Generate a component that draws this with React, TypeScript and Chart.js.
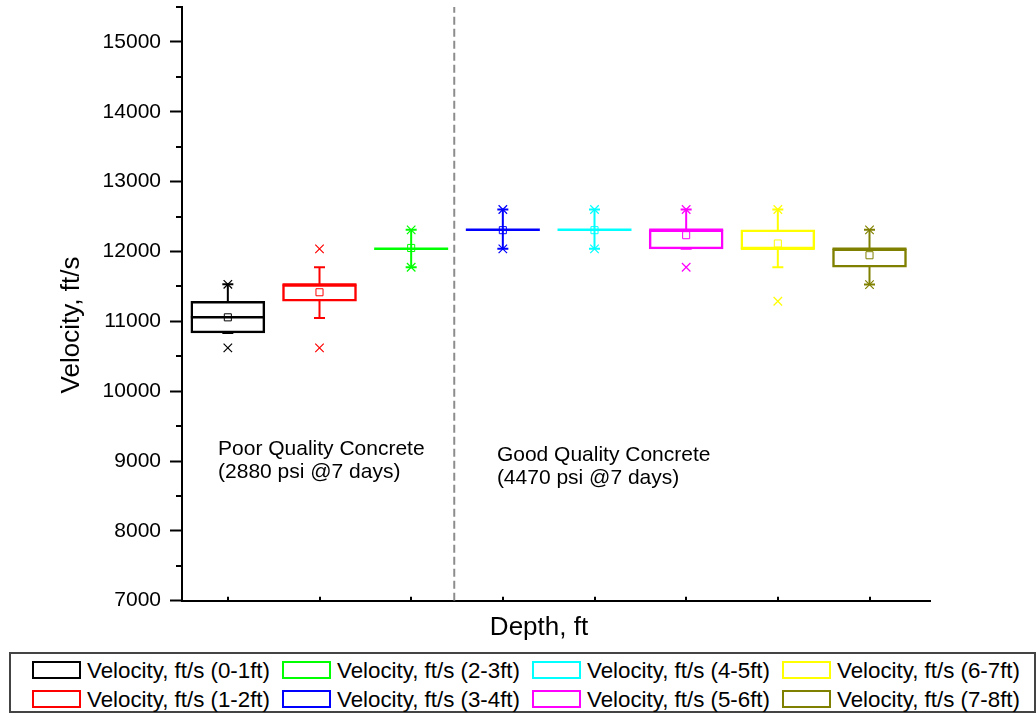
import React, { useEffect, useRef } from 'react';
import { Chart, registerables } from 'chart.js';

Chart.register(...registerables);

const FONT = '"Liberation Sans", Arial, Helvetica, sans-serif';
Chart.defaults.font.family = FONT;

// Depth intervals and their colours
const depthRanges = ['0-1ft', '1-2ft', '2-3ft', '3-4ft', '4-5ft', '5-6ft', '6-7ft', '7-8ft'];
const seriesColors = ['#000000', '#ff0000', '#00ff00', '#0000ff', '#00ffff', '#ff00ff', '#ffff00', '#808000'];

// Box statistics of the pulse velocity per interval (ft/s)
const boxBottom = [10834, 11287, 12038, 12310, 12310, 12038, 12038, 11774];
const boxTop = [11287, 11526, 12038, 12310, 12310, 12310, 12310, 12038];
const medians = [11057, 11526, 12038, 12310, 12310, 12310, 12038, 12038];
const means = [11057, 11416, 12050, 12305, 12305, 12233, 12114, 11946];
const whiskerBottom = [10834, 11049, 11774, 12038, 12038, 12038, 11774, 11526];
const whiskerTop = [11530, 11774, 12310, 12601, 12601, 12601, 12601, 12310];
const minimums = [10619, 10619, 11774, 12038, 12038, 11774, 11287, 11526];
const maximums = [11530, 12038, 12310, 12601, 12601, 12601, 12601, 12310];

// Axis ticks
const yTickValues = [7000, 8000, 9000, 10000, 11000, 12000, 13000, 14000, 15000];
const yMinorTickValues = [7500, 8500, 9500, 10500, 11500, 12500, 13500, 14500, 15500];

// Divider between the two concrete groups (x position in interval units)
const dividerX = 3.47;

const notes = [
  { x: 0.893, y: 9089, lines: ['Poor Quality Concrete', '(2880 psi @7 days)'] },
  { x: 3.935, y: 9003, lines: ['Good Quality Concrete', '(4470 psi @7 days)'] },
];

const seriesLabel = (r: string) => `Velocity, ft/s (${r})`;

const decorations = {
  id: 'decorations',
  afterDraw(chart: any) {
    const { ctx, chartArea: area, scales } = chart;
    const xs = scales.x;
    const ys = scales.y;
    ctx.save();
    ctx.strokeStyle = '#000';
    ctx.lineWidth = 2;
    ctx.beginPath();
    yMinorTickValues.forEach((v) => {
      const py = Math.round(ys.getPixelForValue(v));
      ctx.moveTo(area.left - 6, py);
      ctx.lineTo(area.left, py);
    });
    depthRanges.forEach((_, i) => {
      const px = Math.round(xs.getPixelForValue(i + 1));
      ctx.moveTo(px, area.bottom);
      ctx.lineTo(px, area.bottom - 4);
    });
    ctx.stroke();

    ctx.fillStyle = '#000';
    ctx.font = `21px ${FONT}`;
    ctx.textAlign = 'left';
    ctx.textBaseline = 'alphabetic';
    notes.forEach((n) => {
      const px = xs.getPixelForValue(n.x);
      const py = ys.getPixelForValue(n.y);
      n.lines.forEach((t, k) => ctx.fillText(t, px, py + k * 23.5));
    });

    ctx.font = `26px ${FONT}`;
    ctx.textAlign = 'center';
    ctx.textBaseline = 'middle';
    ctx.fillText('Depth, ft', 539, 628);
    ctx.translate(72, 325);
    ctx.rotate(-Math.PI / 2);
    ctx.fillText('Velocity, ft/s', 0, 0);
    ctx.restore();
  },
};

function buildDatasets() {
  const sets: any[] = [];
  depthRanges.forEach((r, i) => {
    const c = seriesColors[i];
    const xv = i + 1;
    sets.push({
      type: 'bar',
      label: seriesLabel(r),
      data: [{ x: xv, y: [boxBottom[i], boxTop[i]] }],
      borderColor: c,
      backgroundColor: '#ffffff',
      borderWidth: 2.5,
      borderSkipped: false,
      grouped: false,
      maxBarThickness: 74,
      categoryPercentage: 1,
      barPercentage: 1,
      order: 4,
    });
    sets.push({
      type: 'line',
      label: 'whisker',
      data: [{ x: xv, y: whiskerBottom[i] }, { x: xv, y: whiskerTop[i] }],
      borderColor: c,
      borderWidth: 2,
      pointRadius: 0,
      fill: false,
      order: 5,
    });
    sets.push({
      type: 'scatter',
      label: 'median',
      data: [{ x: xv, y: medians[i] }],
      pointStyle: 'line',
      pointRadius: 37,
      pointBorderColor: c,
      pointBorderWidth: 2.5,
      order: 2,
    });
    sets.push({
      type: 'scatter',
      label: 'caps',
      data: [{ x: xv, y: whiskerBottom[i] }, { x: xv, y: whiskerTop[i] }],
      pointStyle: 'line',
      pointRadius: 5.5,
      pointBorderColor: c,
      pointBorderWidth: 2,
      order: 3,
    });
    sets.push({
      type: 'scatter',
      label: 'mean',
      data: [{ x: xv, y: means[i] }],
      pointStyle: 'rect',
      pointRadius: 5,
      pointBorderColor: c,
      pointBackgroundColor: 'rgba(0,0,0,0)',
      pointBorderWidth: 1,
      order: 1,
    });
    sets.push({
      type: 'scatter',
      label: 'extremes',
      data: [{ x: xv, y: minimums[i] }, { x: xv, y: maximums[i] }],
      pointStyle: 'crossRot',
      pointRadius: 6,
      pointBorderColor: c,
      pointBorderWidth: 1.2,
      order: 0,
    });
  });
  sets.push({
    type: 'line',
    label: 'divider',
    data: [{ x: dividerX, y: 7000 }, { x: dividerX, y: 15500 }],
    borderColor: '#8c8c8c',
    borderWidth: 2,
    borderDash: [8, 4],
    pointRadius: 0,
    fill: false,
    order: 9,
  });
  return sets;
}

export default function App() {
  const canvasRef = useRef<HTMLCanvasElement | null>(null);

  useEffect(() => {
    if (!canvasRef.current) return;
    const chart = new Chart(canvasRef.current, {
      type: 'bar',
      data: { datasets: buildDatasets() },
      options: {
        responsive: false,
        animation: false,
        devicePixelRatio: 1,
        layout: { autoPadding: false, padding: { top: 7, right: 106, left: 0, bottom: 0 } },
        plugins: {
          legend: { display: false },
          tooltip: { enabled: false },
        },
        scales: {
          x: {
            type: 'linear',
            min: 0.5,
            max: 8.66,
            offset: false,
            grid: { display: true, offset: false, drawOnChartArea: false, drawTicks: false },
            border: { display: true, color: '#000', width: 2 },
            ticks: { display: false },
            afterBuildTicks: (s: any) => {
              s.ticks = depthRanges.map((_, i) => ({ value: i + 1 }));
            },
            afterFit: (s: any) => {
              s.height = 44.3;
              s.paddingLeft = 0;
              s.paddingRight = 0;
            },
          },
          y: {
            type: 'linear',
            min: 7000,
            max: 15500,
            grid: { drawOnChartArea: false, tickLength: 12, tickWidth: 2, tickColor: '#000' },
            border: { display: true, color: '#000', width: 2 },
            ticks: {
              color: '#000',
              padding: 9,
              font: { family: FONT, size: 21 },
              callback: (v: any) => String(v),
            },
            afterBuildTicks: (s: any) => {
              s.ticks = yTickValues.map((v) => ({ value: v }));
            },
            afterFit: (s: any) => {
              s.width = 182;
              s.paddingTop = 0;
              s.paddingBottom = 0;
            },
          },
        },
      } as any,
      plugins: [decorations],
    } as any);
    return () => chart.destroy();
  }, []);

  return (
    <div style={{ position: 'absolute', left: 0, top: 0, width: 1036, height: 713, background: '#fff', overflow: 'hidden' }}>
      <canvas ref={canvasRef} width={1036} height={645} style={{ display: 'block' }} />
      <div
        style={{
          position: 'absolute',
          left: 9,
          top: 652,
          width: 1027,
          height: 61,
          boxSizing: 'border-box',
          border: '2px solid #444',
          fontFamily: FONT,
          fontSize: 22.3,
          color: '#000',
        }}
      >
        {depthRanges.map((r, i) => {
          const col = Math.floor(i / 2);
          const row = i % 2;
          return (
            <div
              key={r}
              style={{
                position: 'absolute',
                left: 21 + col * 250,
                top: 1.5 + row * 29,
                height: 29,
                display: 'flex',
                alignItems: 'center',
                whiteSpace: 'nowrap',
              }}
            >
              <span
                style={{
                  display: 'inline-block',
                  width: 49,
                  height: 18,
                  boxSizing: 'border-box',
                  border: `2px solid ${seriesColors[i]}`,
                }}
              />
              <span style={{ marginLeft: 6, lineHeight: '29px' }}>{seriesLabel(r)}</span>
            </div>
          );
        })}
      </div>
    </div>
  );
}
